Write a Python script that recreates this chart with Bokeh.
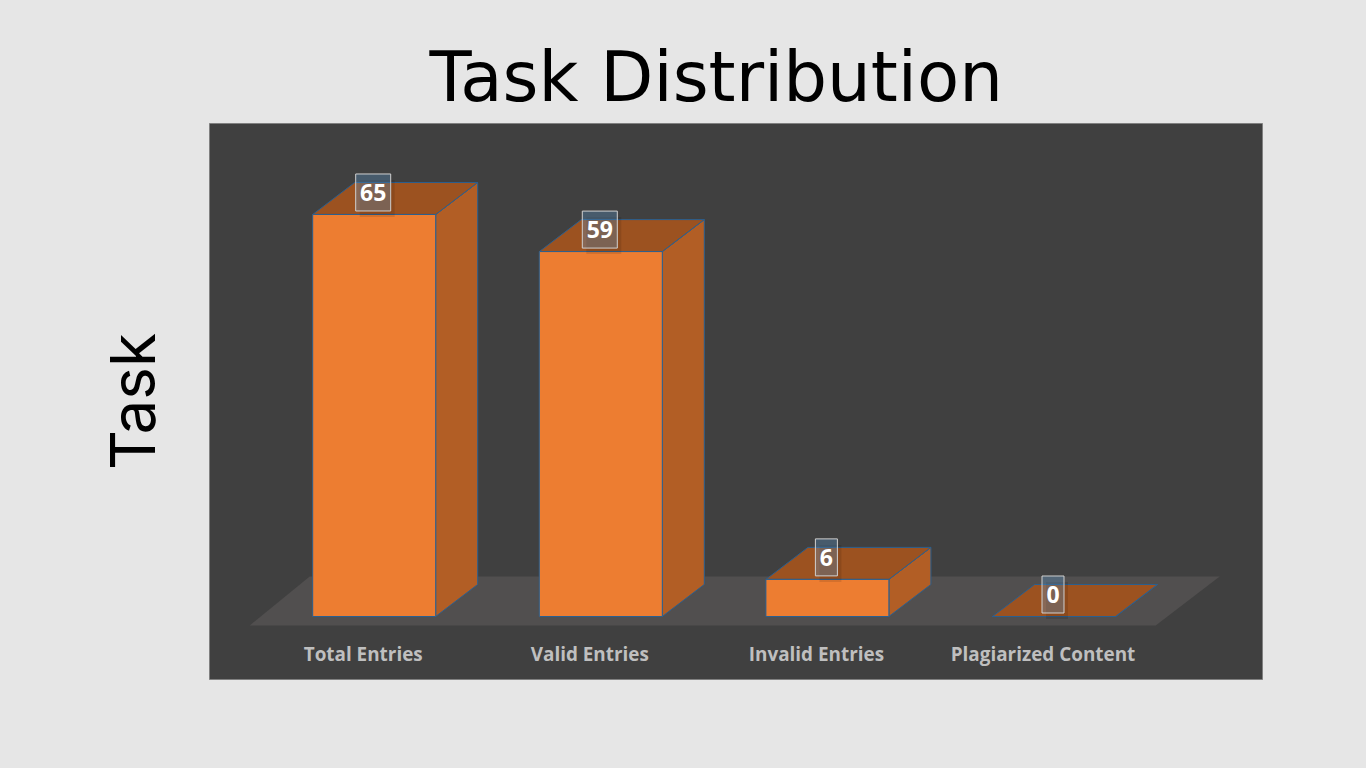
from bokeh.plotting import figure
from bokeh.models import Range1d, Title, FixedTicker
from bokeh.embed import file_html
from bokeh.resources import INLINE
from bokeh.core.properties import value

categories = ["Total Entries", "Valid Entries", "Invalid Entries", "Plagiarized Content"]
values = [65, 59, 6, 0]
title_text = "Task Distribution"
y_label = "Task"

PX_X = 226.6
PX_Y = 6.185
def dx(px): return px / PX_X
def dy(px): return px / PX_Y

BW = 123 / PX_X
DX, DY = dx(42), dy(32)
CX = 373.7

p = figure(width=1358, height=760, output_backend="svg", toolbar_location=None,
           x_range=Range1d((209 - CX) / PX_X, (1262 - CX) / PX_X),
           y_range=Range1d(-(679 - 616) / PX_Y, (616 - 123) / PX_Y),
           min_border_left=209, min_border_right=96, min_border_top=123, min_border_bottom=81,
           background_fill_color="#404040", border_fill_color="#e6e6e6")
p.outline_line_color = "#808080"
p.outline_line_width = 1
p.grid.visible = False
p.xaxis.visible = False
p.yaxis.ticker = FixedTicker(ticks=[])
p.yaxis.axis_line_color = None
p.yaxis.major_tick_line_color = None
p.yaxis.minor_tick_line_color = None
p.yaxis.major_label_text_font_size = "0px"
p.yaxis.axis_label = y_label
p.yaxis.axis_label_text_font = "Inter"
p.yaxis.axis_label_text_font_style = "normal"
p.yaxis.axis_label_text_font_size = "62px"
p.yaxis.axis_label_text_color = "#000000"
p.yaxis.axis_label_standoff = 40

p.title = Title(text=title_text, align="left", offset=220, standoff=14, text_font="DejaVu Sans",
                text_font_style="normal", text_font_size="69px", text_color="#000000")

# floor
fx0, fx1 = dx(250 - 374.5), dx(1156 - 374.5)
fbx0, fbx1 = dx(310 - 374.5), dx(1220 - 374.5)
p.patch([fx0, fx1, fbx1, fbx0], [dy(-9), dy(-9), dy(40), dy(40)], fill_color="#514f4f", line_color=None)

side_x, side_y, top_x, top_y = [], [], [], []
front_l, front_r, front_t = [], [], []
for k, v in enumerate(values):
    l, r = k - BW / 2, k + BW / 2
    front_l.append(l); front_r.append(r); front_t.append(v)
    top_x.append([l, r, r + DX, l + DX]); top_y.append([v, v, v + DY, v + DY])
    side_x.append([r, r + DX, r + DX, r]); side_y.append([0, DY, v + DY, v])

edge = "#2a5f8f"
p.patches(side_x, side_y, fill_color="#b25e25", line_color=edge, line_width=1)
p.patches(top_x, top_y, fill_color="#9c5220", line_color=edge, line_width=1)
p.quad(left=front_l, right=front_r, bottom=[0] * 4, top=front_t, fill_color="#ed7d31", line_color=edge, line_width=1)

# data label boxes
xs = [k - dx(1) for k in range(4)]
ys = [v + dy(22) for v in values]
widths = [dx(35) if v >= 10 else dx(22) for v in values]
p.rect(x=[x + dx(4) for x in xs], y=[y - dy(6) for y in ys], width=widths, height=dy(37),
       fill_color="#000000", fill_alpha=0.10, line_color=None)
p.rect(x=xs, y=ys, width=widths, height=dy(37), fill_color="#5b9bd5", fill_alpha=0.3,
       line_color="#d0d0d0", line_width=1)
p.text(x=xs, y=ys, text=[str(v) for v in values], text_color="#ffffff", text_font=value("Open Sans"),
       text_font_style="bold", text_font_size="23px", text_align="center", text_baseline="middle")

# category labels
p.text(x=[k - dx(11) for k in range(4)], y=[dy(-37)] * 4, text=categories, text_color="#bfbfbf",
       text_font=value("Open Sans"), text_font_style="bold", text_font_size="18.9px",
       text_align="center", text_baseline="middle")

html = file_html(p, INLINE)
html = html.replace("</head>", "<style>html,body{background:#e6e6e6;}</style></head>", 1)
open("out.html", "w").write(html)
